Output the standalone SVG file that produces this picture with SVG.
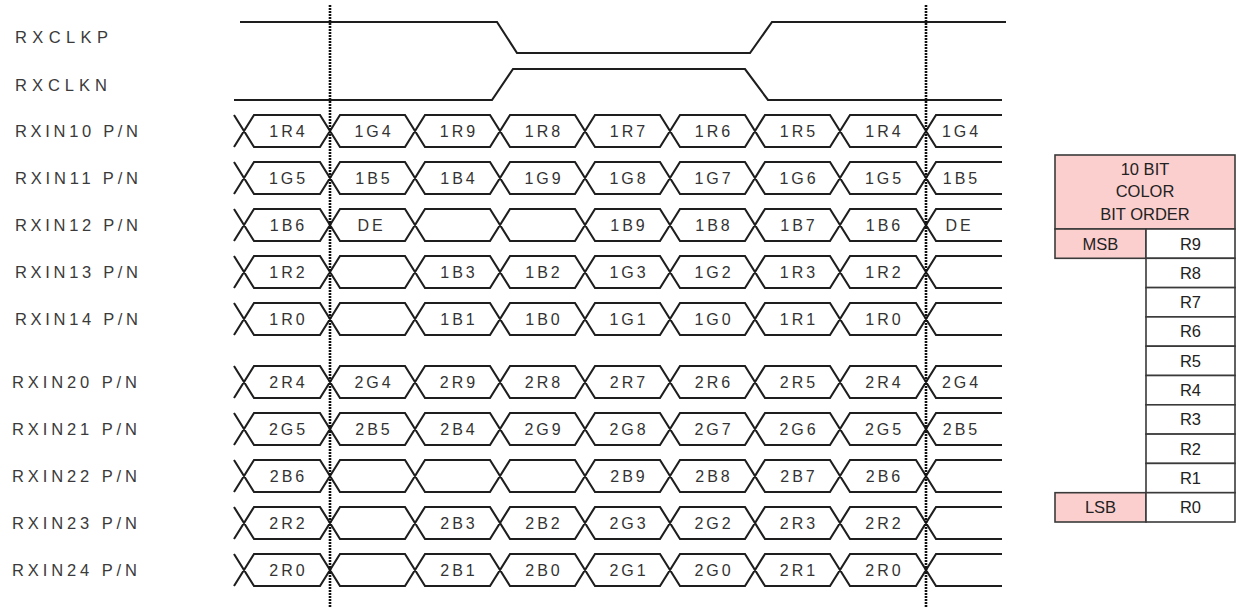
<svg xmlns="http://www.w3.org/2000/svg" xmlns:xlink="http://www.w3.org/1999/xlink" width="1239" height="608" viewBox="0 0 1239 608">
<style>
.lbl{font-family:"Liberation Sans",Arial,sans-serif;font-size:16.5px;fill:#3a3a3a}
.cell{font-family:"Liberation Sans",Arial,sans-serif;font-size:16px;letter-spacing:3px;fill:#333;text-anchor:middle}
.wave{fill:none;stroke:#1e1e1e;stroke-width:2.1;stroke-linejoin:miter}
.clk{fill:none;stroke:#1e1e1e;stroke-width:2.1}
.mark{stroke:#111;stroke-width:2.6;stroke-dasharray:2 1}
.tb{font-family:"Liberation Sans",Arial,sans-serif;font-size:16.5px;fill:#222;text-anchor:middle}
.pink{fill:#fccfcf;stroke:#3a3a3a;stroke-width:1.6}
.white{fill:#fff;stroke:#3a3a3a;stroke-width:1.6}
</style>
<defs>
<path id="bus" class="wave" d="M234,-16 L254,16 L320,16 L340,-16 L405,-16 L425,16 L490,16 L510,-16 L575,-16 L595,16 L660,16 L680,-16 L745,-16 L765,16 L830,16 L850,-16 L916,-16 L936,16 L1002,16 M234,16 L254,-16 L320,-16 L340,16 L405,16 L425,-16 L490,-16 L510,16 L575,16 L595,-16 L660,-16 L680,16 L745,16 L765,-16 L830,-16 L850,16 L916,16 L936,-16 L1002,-16"/>
</defs>
<rect width="1239" height="608" fill="#fff"/>

<g id="clocks">
<g id="rxclkp">
<text class="lbl" x="15" y="43" textLength="93" lengthAdjust="spacing">RXCLKP</text>
<path class="clk" d="M240,22 L497,22 L517,53 L750,53 L772,22 L1006,22"/>
</g>
<g id="rxclkn">
<text class="lbl" x="15" y="91" textLength="92" lengthAdjust="spacing">RXCLKN</text>
<path class="clk" d="M234,100 L492,100 L513,69 L745,69 L768,100 L1002,100"/>
</g>
</g>

<g id="row10" transform="translate(0,131)">
<text class="lbl" x="15" y="6" textLength="123" lengthAdjust="spacing">RXIN10 P/N</text>
<use xlink:href="#bus"/>
<text class="cell" y="6" transform="translate(1.5,0)"><tspan x="287">1R4</tspan><tspan x="372.5">1G4</tspan><tspan x="457.5">1R9</tspan><tspan x="542.5">1R8</tspan><tspan x="627.5">1R7</tspan><tspan x="712.5">1R6</tspan><tspan x="797.5">1R5</tspan><tspan x="883">1R4</tspan><tspan x="960">1G4</tspan></text>
</g>
<g id="row11" transform="translate(0,178)">
<text class="lbl" x="15" y="6" textLength="123" lengthAdjust="spacing">RXIN11 P/N</text>
<use xlink:href="#bus"/>
<text class="cell" y="6" transform="translate(1.5,0)"><tspan x="287">1G5</tspan><tspan x="372.5">1B5</tspan><tspan x="457.5">1B4</tspan><tspan x="542.5">1G9</tspan><tspan x="627.5">1G8</tspan><tspan x="712.5">1G7</tspan><tspan x="797.5">1G6</tspan><tspan x="883">1G5</tspan><tspan x="960">1B5</tspan></text>
</g>
<g id="row12" transform="translate(0,225)">
<text class="lbl" x="15" y="6" textLength="123" lengthAdjust="spacing">RXIN12 P/N</text>
<use xlink:href="#bus"/>
<text class="cell" y="6" transform="translate(1.5,0)"><tspan x="287">1B6</tspan><tspan x="370">DE</tspan><tspan x="627.5">1B9</tspan><tspan x="712.5">1B8</tspan><tspan x="797.5">1B7</tspan><tspan x="883">1B6</tspan><tspan x="958">DE</tspan></text>
</g>
<g id="row13" transform="translate(0,272)">
<text class="lbl" x="15" y="6" textLength="123" lengthAdjust="spacing">RXIN13 P/N</text>
<use xlink:href="#bus"/>
<text class="cell" y="6" transform="translate(1.5,0)"><tspan x="287">1R2</tspan><tspan x="457.5">1B3</tspan><tspan x="542.5">1B2</tspan><tspan x="627.5">1G3</tspan><tspan x="712.5">1G2</tspan><tspan x="797.5">1R3</tspan><tspan x="883">1R2</tspan></text>
</g>
<g id="row14" transform="translate(0,319)">
<text class="lbl" x="15" y="6" textLength="123" lengthAdjust="spacing">RXIN14 P/N</text>
<use xlink:href="#bus"/>
<text class="cell" y="6" transform="translate(1.5,0)"><tspan x="287">1R0</tspan><tspan x="457.5">1B1</tspan><tspan x="542.5">1B0</tspan><tspan x="627.5">1G1</tspan><tspan x="712.5">1G0</tspan><tspan x="797.5">1R1</tspan><tspan x="883">1R0</tspan></text>
</g>

<g id="row20" transform="translate(0,382)">
<text class="lbl" x="12" y="6" textLength="125" lengthAdjust="spacing">RXIN20 P/N</text>
<use xlink:href="#bus"/>
<text class="cell" y="6" transform="translate(1.5,0)"><tspan x="287">2R4</tspan><tspan x="372.5">2G4</tspan><tspan x="457.5">2R9</tspan><tspan x="542.5">2R8</tspan><tspan x="627.5">2R7</tspan><tspan x="712.5">2R6</tspan><tspan x="797.5">2R5</tspan><tspan x="883">2R4</tspan><tspan x="960">2G4</tspan></text>
</g>
<g id="row21" transform="translate(0,429)">
<text class="lbl" x="12" y="6" textLength="125" lengthAdjust="spacing">RXIN21 P/N</text>
<use xlink:href="#bus"/>
<text class="cell" y="6" transform="translate(1.5,0)"><tspan x="287">2G5</tspan><tspan x="372.5">2B5</tspan><tspan x="457.5">2B4</tspan><tspan x="542.5">2G9</tspan><tspan x="627.5">2G8</tspan><tspan x="712.5">2G7</tspan><tspan x="797.5">2G6</tspan><tspan x="883">2G5</tspan><tspan x="960">2B5</tspan></text>
</g>
<g id="row22" transform="translate(0,476)">
<text class="lbl" x="12" y="6" textLength="125" lengthAdjust="spacing">RXIN22 P/N</text>
<use xlink:href="#bus"/>
<text class="cell" y="6" transform="translate(1.5,0)"><tspan x="287">2B6</tspan><tspan x="627.5">2B9</tspan><tspan x="712.5">2B8</tspan><tspan x="797.5">2B7</tspan><tspan x="883">2B6</tspan></text>
</g>
<g id="row23" transform="translate(0,523)">
<text class="lbl" x="12" y="6" textLength="125" lengthAdjust="spacing">RXIN23 P/N</text>
<use xlink:href="#bus"/>
<text class="cell" y="6" transform="translate(1.5,0)"><tspan x="287">2R2</tspan><tspan x="457.5">2B3</tspan><tspan x="542.5">2B2</tspan><tspan x="627.5">2G3</tspan><tspan x="712.5">2G2</tspan><tspan x="797.5">2R3</tspan><tspan x="883">2R2</tspan></text>
</g>
<g id="row24" transform="translate(0,570)">
<text class="lbl" x="12" y="6" textLength="125" lengthAdjust="spacing">RXIN24 P/N</text>
<use xlink:href="#bus"/>
<text class="cell" y="6" transform="translate(1.5,0)"><tspan x="287">2R0</tspan><tspan x="457.5">2B1</tspan><tspan x="542.5">2B0</tspan><tspan x="627.5">2G1</tspan><tspan x="712.5">2G0</tspan><tspan x="797.5">2R1</tspan><tspan x="883">2R0</tspan></text>
</g>

<g id="markers">
<line class="mark" x1="330" y1="5" x2="330" y2="608"/>
<line class="mark" x1="926" y1="5" x2="926" y2="608"/>
</g>

<g id="bit-order-table">
<rect class="pink" x="1055" y="155" width="180" height="74"/>
<text class="tb" x="1145" y="175">10 BIT</text>
<text class="tb" x="1145" y="197">COLOR</text>
<text class="tb" x="1145" y="220">BIT ORDER</text>
<rect class="pink" x="1055" y="229" width="91" height="29.3"/>
<text class="tb" x="1100.5" y="249.5">MSB</text>
<rect class="pink" x="1055" y="492.7" width="91" height="29.3"/>
<text class="tb" x="1100.5" y="513">LSB</text>
<g>
<rect class="white" x="1146" y="229" width="89" height="29.3"/>
<rect class="white" x="1146" y="258.3" width="89" height="29.3"/>
<rect class="white" x="1146" y="287.6" width="89" height="29.3"/>
<rect class="white" x="1146" y="316.9" width="89" height="29.3"/>
<rect class="white" x="1146" y="346.2" width="89" height="29.3"/>
<rect class="white" x="1146" y="375.5" width="89" height="29.3"/>
<rect class="white" x="1146" y="404.8" width="89" height="29.3"/>
<rect class="white" x="1146" y="434.1" width="89" height="29.3"/>
<rect class="white" x="1146" y="463.4" width="89" height="29.3"/>
<rect class="white" x="1146" y="492.7" width="89" height="29.3"/>
</g>
<text class="tb" x="1190.5" y="249.5">R9</text>
<text class="tb" x="1190.5" y="278.8">R8</text>
<text class="tb" x="1190.5" y="308.1">R7</text>
<text class="tb" x="1190.5" y="337.4">R6</text>
<text class="tb" x="1190.5" y="366.7">R5</text>
<text class="tb" x="1190.5" y="396">R4</text>
<text class="tb" x="1190.5" y="425.3">R3</text>
<text class="tb" x="1190.5" y="454.6">R2</text>
<text class="tb" x="1190.5" y="483.9">R1</text>
<text class="tb" x="1190.5" y="513.2">R0</text>
</g>
</svg>
